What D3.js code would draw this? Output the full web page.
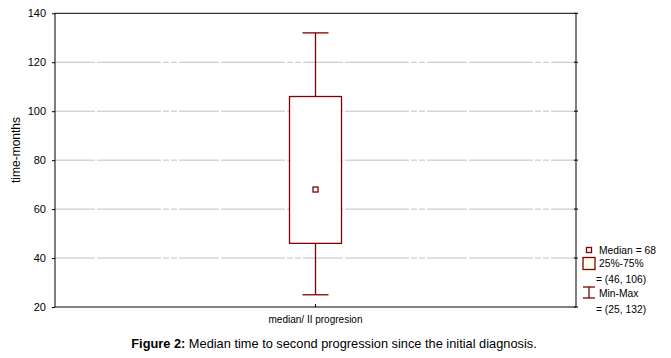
<!DOCTYPE html>
<html><head><meta charset="utf-8">
<script src="https://cdn.jsdelivr.net/npm/d3@7"></script>
<style>body{margin:0;background:#fff}text{font-family:"Liberation Sans",Arial,sans-serif}</style>
</head><body>
<svg id="c" width="671" height="358"></svg>
<script>
const categories = ["median/ II progresion"];
const medians = [68];
const q1s = [46];
const q3s = [106];
const mins = [25];
const maxs = [132];
const yTicks = [20, 40, 60, 80, 100, 120, 140];

const svg = d3.select("#c");
const m = {l: 55, r: 576, t: 13.3, b: 307};
const y = d3.scaleLinear().domain([20, 140]).range([m.b, m.t]);
const x = d3.scaleBand().domain(categories).range([m.l, m.r]);
const red = "#800000";

// gridlines
svg.append("g").selectAll("line").data(yTicks.filter(d => d > 20 && d < 140)).join("line")
  .attr("x1", m.l).attr("x2", m.r).attr("y1", d => y(d)).attr("y2", d => y(d))
  .attr("stroke", "#c0c0c0").attr("stroke-width", 1).attr("stroke-dasharray", "40,2,64,2,6,2,6,2");

// frame
svg.append("rect").attr("x", m.l).attr("y", m.t).attr("width", m.r - m.l).attr("height", m.b - m.t)
  .attr("fill", "none").attr("stroke", "#000").attr("stroke-width", 1);

// left axis
const ya = svg.append("g").attr("transform", `translate(${m.l},0)`)
  .call(d3.axisLeft(y).tickValues(yTicks).tickSize(3).tickPadding(6));
ya.select(".domain").remove();
ya.selectAll("text").attr("font-size", 11).attr("fill", "#000").attr("font-family", "Liberation Sans, Arial, sans-serif");
// right ticks
svg.append("g").selectAll("line").data(yTicks).join("line")
  .attr("x1", m.r - 2).attr("x2", m.r + 2).attr("y1", d => y(d)).attr("y2", d => y(d)).attr("stroke", "#000");

// bottom axis
const xa = svg.append("g").attr("transform", `translate(0,${m.b})`)
  .call(d3.axisBottom(x).tickSize(-3).tickPadding(9));
xa.select(".domain").remove();
xa.selectAll("text").attr("font-size", 10).attr("fill", "#000").attr("font-family", "Liberation Sans, Arial, sans-serif");

// y axis title
svg.append("text").attr("transform", `translate(20,150) rotate(-90)`)
  .attr("text-anchor", "middle").attr("font-size", 12).text("time-months");

// boxes
const bw = 52, cw = 26;
categories.forEach((c, i) => {
  const cx = x(c) + x.bandwidth() / 2;
  const g = svg.append("g");
  g.append("line").attr("x1", cx).attr("x2", cx).attr("y1", y(maxs[i])).attr("y2", y(q3s[i])).attr("stroke", red).attr("stroke-width", 1.3);
  g.append("line").attr("x1", cx).attr("x2", cx).attr("y1", y(q1s[i])).attr("y2", y(mins[i])).attr("stroke", red).attr("stroke-width", 1.3);
  g.append("line").attr("x1", cx - cw / 2).attr("x2", cx + cw / 2).attr("y1", y(maxs[i])).attr("y2", y(maxs[i])).attr("stroke", red).attr("stroke-width", 1.3);
  g.append("line").attr("x1", cx - cw / 2).attr("x2", cx + cw / 2).attr("y1", y(mins[i])).attr("y2", y(mins[i])).attr("stroke", red).attr("stroke-width", 1.3);
  g.append("rect").attr("x", cx - bw / 2).attr("y", y(q3s[i])).attr("width", bw).attr("height", y(q1s[i]) - y(q3s[i]))
    .attr("fill", "#fff").attr("stroke", red).attr("stroke-width", 1.3);
  g.append("rect").attr("x", cx - 2.5).attr("y", y(medians[i]) - 2.5).attr("width", 5).attr("height", 5)
    .attr("fill", "#fff").attr("stroke", red).attr("stroke-width", 1.3);
});

// legend
const L = svg.append("g");
const fs = 10.3;
L.append("rect").attr("x", 586.5).attr("y", 247.5).attr("width", 5).attr("height", 5).attr("fill", "#fff").attr("stroke", red).attr("stroke-width", 1.3);
L.append("text").attr("x", 599).attr("y", 254).attr("font-size", fs).text(`Median = ${medians[0]}`);
L.append("rect").attr("x", 583).attr("y", 257.5).attr("width", 12).attr("height", 12).attr("fill", "#fffcec").attr("stroke", red).attr("stroke-width", 1.3);
L.append("text").attr("x", 599).attr("y", 267).attr("font-size", fs).text("25%-75%");
L.append("text").attr("x", 596).attr("y", 283).attr("font-size", fs).text(`= (${q1s[0]}, ${q3s[0]})`);
L.append("line").attr("x1", 589).attr("x2", 589).attr("y1", 287).attr("y2", 298).attr("stroke", red).attr("stroke-width", 1.3);
L.append("line").attr("x1", 583).attr("x2", 595).attr("y1", 287).attr("y2", 287).attr("stroke", red).attr("stroke-width", 1.3);
L.append("line").attr("x1", 583).attr("x2", 595).attr("y1", 298).attr("y2", 298).attr("stroke", red).attr("stroke-width", 1.3);
L.append("text").attr("x", 599).attr("y", 297).attr("font-size", fs).text("Min-Max");
L.append("text").attr("x", 596).attr("y", 313).attr("font-size", fs).text(`= (${mins[0]}, ${maxs[0]})`);

// caption
const cap = svg.append("text").attr("x", 334).attr("y", 348).attr("text-anchor", "middle").attr("font-size", 12.8);
cap.append("tspan").attr("font-weight", "bold").text("Figure 2:");
cap.append("tspan").text(" Median time to second progression since the initial diagnosis.");
</script>
</body></html>
